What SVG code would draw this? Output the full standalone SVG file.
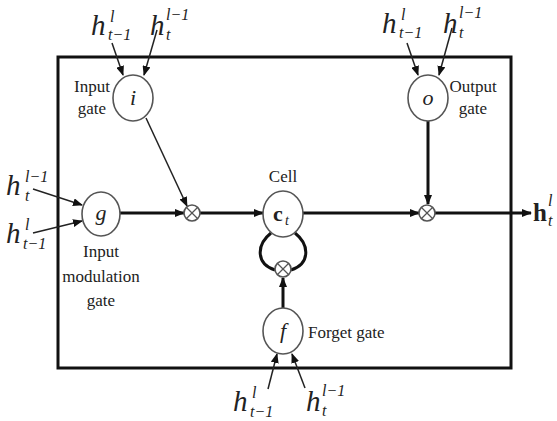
<svg xmlns="http://www.w3.org/2000/svg" width="557" height="421" viewBox="0 0 557 421" font-family="'Liberation Serif', serif">
<style>
text{font-family:"Liberation Serif","Times New Roman",serif;fill:#222}
.lbl{font-size:17px}
.mid{text-anchor:middle}
.h{font-size:29px;font-style:italic}
.s{font-size:16px;font-style:italic}
.node{fill:#fff;stroke:#555;stroke-width:1.6}
.var{font-size:22px;font-style:italic;text-anchor:middle}
.thin{stroke:#222;stroke-width:1.5;fill:none}
.thick{stroke:#111;stroke-width:3;fill:none}
.mul line{stroke:#555;stroke-width:1.2}
</style>
<defs>
<marker id="arr" markerUnits="userSpaceOnUse" markerWidth="10" markerHeight="8" refX="9" refY="4" orient="auto">
<path d="M0,0 L10,4 L0,8 Z" fill="#111"/>
</marker>
</defs>
<rect x="58" y="57" width="453" height="311" fill="none" stroke="#111" stroke-width="3"/>
<g id="connectors">
<line class="thin" x1="112" y1="43" x2="123" y2="75" marker-end="url(#arr)"/>
<line class="thin" x1="157" y1="30" x2="144" y2="75" marker-end="url(#arr)"/>
<line class="thin" x1="407" y1="43" x2="418" y2="75" marker-end="url(#arr)"/>
<line class="thin" x1="452" y1="28" x2="439" y2="75" marker-end="url(#arr)"/>
<line class="thin" x1="33" y1="189" x2="82" y2="205" marker-end="url(#arr)"/>
<line class="thin" x1="33" y1="233" x2="82" y2="221" marker-end="url(#arr)"/>
<line class="thin" x1="268" y1="389" x2="277" y2="354" marker-end="url(#arr)"/>
<line class="thin" x1="305" y1="388" x2="292" y2="354" marker-end="url(#arr)"/>
<line class="thin" x1="146" y1="118" x2="187" y2="206" marker-end="url(#arr)"/>
<line class="thick" x1="120" y1="213" x2="184" y2="213" marker-end="url(#arr)"/>
<line class="thick" x1="200" y1="213" x2="263" y2="213" marker-end="url(#arr)"/>
<line class="thick" x1="303" y1="213" x2="419" y2="213" marker-end="url(#arr)"/>
<line class="thick" x1="435" y1="213" x2="531" y2="213" marker-end="url(#arr)"/>
<line class="thick" x1="428" y1="121" x2="428" y2="204" stroke-width="2.5" marker-end="url(#arr)"/>
<line class="thick" x1="283" y1="308" x2="283" y2="278" stroke-width="2.5" marker-end="url(#arr)"/>
<path class="thick" d="M271,233 C256,245 256,264 275,270"/>
<path class="thick" d="M295,233 C310,245 310,264 291,270"/>
</g>
<g id="input-gate">
<ellipse class="node" cx="133" cy="98" rx="20" ry="23"/>
<text class="var" x="133" y="105">i</text>
<text class="lbl mid" x="92" y="92">Input</text>
<text class="lbl mid" x="92" y="114">gate</text>
</g>
<g id="output-gate">
<ellipse class="node" cx="428" cy="98" rx="20" ry="23"/>
<text class="var" x="428" y="105">o</text>
<text class="lbl mid" x="473" y="92">Output</text>
<text class="lbl mid" x="473" y="114">gate</text>
</g>
<g id="input-modulation-gate">
<ellipse class="node" cx="101" cy="214" rx="19" ry="22"/>
<text class="var" x="101" y="220">g</text>
<text class="lbl mid" x="101" y="257">Input</text>
<text class="lbl mid" x="101" y="282">modulation</text>
<text class="lbl mid" x="101" y="306">gate</text>
</g>
<g id="cell">
<ellipse class="node" cx="283" cy="214" rx="20" ry="23"/>
<text x="273" y="221" style="font-size:22px;font-weight:bold">c</text><text x="285" y="225" class="s" style="font-size:14px">t</text>
<text class="lbl mid" x="283" y="182">Cell</text>
</g>
<g id="forget-gate">
<ellipse class="node" cx="283" cy="331" rx="20" ry="23"/>
<text class="var" x="283" y="338">f</text>
<text class="lbl" x="308" y="338">Forget gate</text>
</g>
<g id="mul-input" class="mul">
<circle class="node" cx="192" cy="213" r="8"/>
<line x1="186.5" y1="207.5" x2="197.5" y2="218.5"/><line x1="197.5" y1="207.5" x2="186.5" y2="218.5"/>
</g>
<g id="mul-forget" class="mul">
<circle class="node" cx="283" cy="269" r="8"/>
<line x1="277.5" y1="263.5" x2="288.5" y2="274.5"/><line x1="288.5" y1="263.5" x2="277.5" y2="274.5"/>
</g>
<g id="mul-output" class="mul">
<circle class="node" cx="427" cy="213" r="8"/>
<line x1="421.5" y1="207.5" x2="432.5" y2="218.5"/><line x1="432.5" y1="207.5" x2="421.5" y2="218.5"/>
</g>
<g id="labels">
<text class="h" x="91" y="35">h</text><text class="s" x="110" y="22">l</text><text class="s" x="108" y="40">t−1</text>
<text class="h" x="150" y="35">h</text><text class="s" x="166" y="20">l−1</text><text class="s" x="166" y="40">t</text>
<text class="h" x="382" y="33">h</text><text class="s" x="401" y="20">l</text><text class="s" x="399" y="38">t−1</text>
<text class="h" x="443" y="33">h</text><text class="s" x="459" y="18">l−1</text><text class="s" x="459" y="38">t</text>
<text class="h" x="6" y="195">h</text><text class="s" x="25" y="182">l−1</text><text class="s" x="25" y="201">t</text>
<text class="h" x="6" y="243">h</text><text class="s" x="25" y="230">l</text><text class="s" x="23" y="249">t−1</text>
<text class="h" x="233" y="411">h</text><text class="s" x="252" y="398">l</text><text class="s" x="250" y="417">t−1</text>
<text class="h" x="306" y="411">h</text><text class="s" x="322" y="396">l−1</text><text class="s" x="322" y="416">t</text>
<text x="533" y="221" style="font-size:25px;font-weight:bold">h</text><text class="s" x="548" y="206">l</text><text class="s" x="548" y="226">t</text>
</g>
</svg>
